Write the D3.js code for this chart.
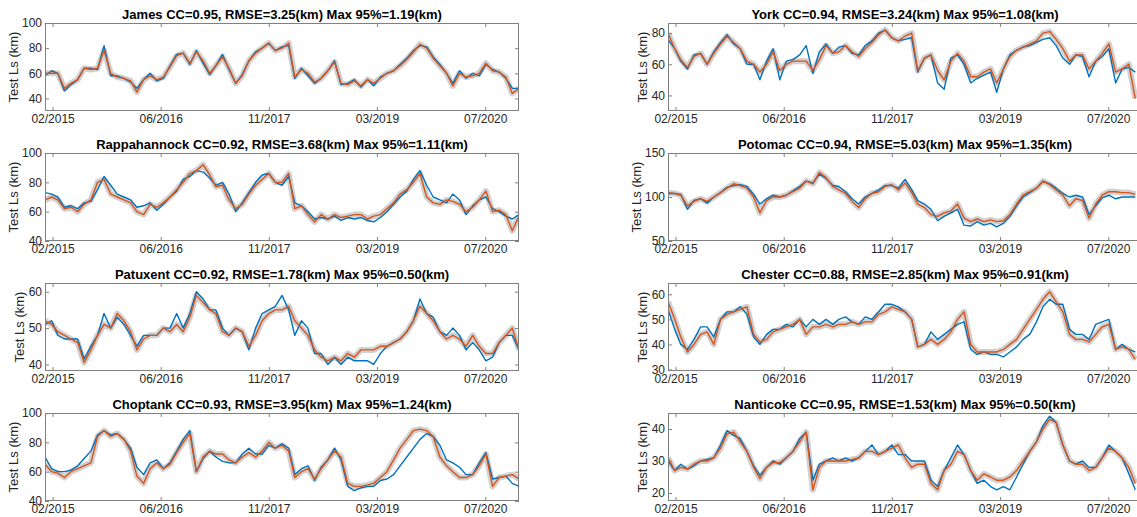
<!doctype html>
<html>
<head>
  <meta charset="utf-8">
  <title>Test Ls by river</title>
  <script src="https://d3js.org/d3.v7.min.js"></script>
  <style>
  body { margin: 0; background: #fff; }
  svg { display: block; font-family: "Liberation Sans", Arial, Helvetica, sans-serif; }
  .title { font-size: 13px; font-weight: bold; fill: #000; }
  .tick text { font-size: 12px; fill: #262626; }
  .tick line { stroke: #808080; }
  .ylabel { font-size: 13px; fill: #262626; }
  </style>
</head>
<body>
  <svg id="chart" width="1137" height="517"></svg>
  <script>
  // panels, row by row (left, right)
  var rivers = ['James', 'York', 'Rappahannock', 'Potomac', 'Patuxent', 'Chester', 'Choptank', 'Nanticoke'];
  var cc = ['0.95', '0.94', '0.92', '0.94', '0.92', '0.88', '0.93', '0.95'];
  var rmse = ['3.25', '3.24', '3.68', '5.03', '1.78', '2.85', '3.95', '1.53'];
  var max95 = ['1.19', '1.08', '1.11', '1.35', '0.50', '0.91', '1.24', '0.50'];

  var yDomains = [[30, 100], [30, 86.5], [40, 100], [50, 150], [38.2, 62.4], [29.4, 64.5], [40, 100], [17.5, 45]];
  var yTicks = [[40, 60, 80, 100], [40, 60, 80], [40, 60, 80, 100], [50, 100, 150], [40, 50, 60], [30, 40, 50, 60], [40, 60, 80, 100], [20, 30, 40]];

  // x ticks every 500 days, labelled mm/yyyy
  var xTickDates = ['2015-02-05', '2016-06-19', '2017-11-01', '2019-03-16', '2020-07-29'];

  // monthly values, first of each month from 01/2015
  var observed = {
    James: [58,62,60,46,51,55,64,64,63,82, 58,58,56,53,48,55,60,54,56,66, 75,76,67,78,68,59,66,75,63,52,
      59,70,77,80,84,78,81,82,56,64, 58,52,56,62,70,51,52,55,49,55, 50,57,60,62,67,72,78,82,81,73,
      67,60,52,62,56,60,58,67,63,61, 56,48,48],
    York: [76,70,62,57,66,67,60,68,74,79, 73,70,60,60,50,62,70,50,62,63, 66,72,54,68,73,67,71,72,67,66,
      72,75,80,82,77,75,76,77,55,64, 66,48,44,64,66,60,48,51,53,55, 42,57,66,69,71,72,74,76,77,72,
      64,60,66,65,52,62,65,70,48,57, 58,55],
    Rappahannock: [73,72,70,63,64,62,66,67,75,84, 78,72,70,68,63,64,66,61,65,70, 74,82,84,88,87,83,78,80,72,60,
      66,73,80,85,86,80,78,84,66,64, 60,55,56,55,57,54,56,55,56,54, 53,56,60,65,70,74,82,88,78,70,
      68,66,72,68,58,64,68,70,62,60, 57,55,58],
    Potomac: [104,104,103,86,96,98,93,100,105,111, 113,114,112,103,92,98,102,100,102,107, 112,118,116,126,121,113,112,106,98,92,
      100,104,108,113,113,110,120,108,96,92, 86,73,78,82,86,68,67,72,68,70, 66,70,78,90,100,105,110,118,115,110,
      104,100,102,100,80,90,99,102,98,100, 100,100],
    Patuxent: [51,52,48,47,47,47,41.5,45,48,54, 50,53,51,48,45,48,48,48,50,50, 54,50,54,60,58,55,55,50,48,50,
      49,44,50,54,55,56,59,55,48,52, 50,43,43,40,42,40,42,41,41,41, 40,43,45,46,47,49,52,58,54,53,
      49,48,50,48,44,46,44,41,42,46, 48,48,44],
    Chester: [54,46,40,38,42,47,47,43,50,53, 53,55,52,43,40,44,46,46,48,47, 50,47,50,48,50,48,50,51,49,48,
      51,50,53,56,56,55,53,50,39,40, 45,42,44,46,48,49,38,36,37,36, 36,35,37,39,42,44,49,55,58,56,
      56,46,44,44,42,48,49,50,38,40, 38,37],
    Choptank: [70,62,60,60,61,64,69,74,85,88, 85,86,82,76,63,58,66,68,62,66, 74,82,88,60,69,74,70,67,66,66,
      72,76,72,72,78,76,79,76,58,62, 64,54,63,68,76,68,50,47,49,50, 50,54,55,58,64,70,76,82,86,84,
      78,68,66,63,58,58,66,73,55,56, 57,52,50],
    Nanticoke: [30,27,29,27.5,28.5,30,30.5,31,35,39.5, 38,37,33,28.5,25.5,28,30,29,31,33, 37,39,24,29,30,31,30,31,30,31,
      33,35,32,33,35,32,32,30,30,30, 24,22,27,31,35,32,27,23,24,22, 21,22,21,25,29,33,36,41,44,42,
      35,30,29,30,28,28,31,35,33,31, 26,21]
  };

  var predicted = {
    James: [60,60,60,48,52,55,64,63,64,78, 60,57,56,54,45,55,58,55,57,65, 74,76,68,77,70,60,66,73,64,52,
      58,70,76,80,84,78,80,84,57,63, 60,53,56,62,69,52,51,54,50,55, 52,56,60,62,66,71,77,83,80,72,
      66,60,50,60,57,58,60,68,62,61, 57,44,48],
    York: [80,70,63,58,65,67,60,67,73,78, 74,70,62,60,55,60,68,56,60,62, 62,62,56,63,72,67,68,72,68,65,
      70,74,79,82,77,75,78,80,56,64, 66,56,50,62,67,62,52,52,55,57, 48,57,65,69,71,73,75,80,81,76,
      70,62,66,66,57,62,67,73,55,57, 60,38],
    Rappahannock: [68,70,68,62,63,60,65,68,80,82, 72,70,68,66,60,58,65,63,66,70, 75,80,86,88,92,85,77,78,68,62,
      65,72,78,82,86,80,80,86,62,64, 58,53,58,55,58,56,57,58,58,55, 57,58,62,66,72,75,80,86,70,66,
      65,68,67,65,60,63,68,74,60,61, 58,47,57],
    Potomac: [105,104,102,90,95,98,95,100,105,110, 115,113,110,100,82,96,100,100,102,106, 110,118,115,128,122,112,108,104,95,88,
      98,104,106,112,114,108,116,105,92,88, 80,78,82,84,92,76,72,75,72,74, 72,73,80,92,102,106,110,118,114,108,
      102,90,98,96,76,92,102,106,106,105, 105,103],
    Patuxent: [52,51,49,48,47,46,40.5,44,48,51, 50,54,52,49,44,47,48,48,50,49, 51,49,53,59,57,55,54,49,48,50,
      49,45,48,52,54,55,55,56,52,50, 48,44,42,41,42,41,43,42,44,44, 44,45,45,46,47,49,52,56,54,52,
      49,47,48,47,45,48,45,43,43,46, 48,50,44],
    Chester: [57,50,43,37,40,44,45,40,50,52, 53,54,55,44,41,42,45,46,47,48, 50,44,47,47,48,47,48,48,49,48,
      49,49,52,53,55,54,53,50,39,40, 42,40,42,45,50,53,40,37,37,37, 37,38,40,42,46,50,54,58,61,57,
      53,44,42,42,41,44,47,48,38,39, 38,34],
    Choptank: [65,60,59,56,60,62,64,66,84,88, 84,86,82,74,57,52,62,66,62,65, 73,80,86,60,70,74,72,72,68,66,
      70,73,70,74,80,76,78,74,56,60, 62,55,62,68,74,70,52,50,50,51, 52,56,60,68,76,82,88,89,88,84,
      70,64,60,56,56,58,64,72,50,56, 57,58,55],
    Nanticoke: [31,27,28,27.5,29,30,30,31,34,38.5, 39,36,33,28,24.5,28,29.5,29.5,31,33, 36,39,21,28,30,30,30,30,30.5,31,
      33,33,32,33,34,35,31,28,29,29, 23,21,27,29,33,32,27,24,26,25, 24,24,25,27,30,33,36,40,43,42,
      35,30,29,29,27,28,31,34,33,31, 28,23]
  };

  var months = d3.utcMonths(new Date(Date.UTC(2015, 0, 1)), new Date(Date.UTC(2021, 0, 2)));

  var colX = [45, 668];
  var rowY = [23, 153, 283, 413];
  var W = 474, H = 88;
  var blue = '#0072BD', orange = '#D95319', band = '#d0d0d0', boxColor = '#808080';

  var svg = d3.select('#chart');

  var x = d3.scaleUtc()
    .domain([new Date(Date.UTC(2015, 0, 1)), new Date(Date.UTC(2021, 0, 1))])
    .range([0, W]);
  var tickDates = xTickDates.map(function(s){ return new Date(s + 'T00:00:00Z'); });
  var fmt = d3.utcFormat('%m/%Y');

  rivers.forEach(function(name, i){
    var col = i % 2, row = Math.floor(i / 2);
    var g = svg.append('g').attr('transform', 'translate(' + colX[col] + ',' + rowY[row] + ')');
    var y = d3.scaleLinear().domain(yDomains[i]).range([H, 0]);

    var clipId = 'clip' + i;
    g.append('clipPath').attr('id', clipId)
      .append('rect').attr('width', W).attr('height', H);

    var line = d3.line()
      .x(function(d, k){ return x(months[k]); })
      .y(function(d){ return y(d); });

    var plot = g.append('g').attr('clip-path', 'url(#' + clipId + ')');
    plot.append('path').datum(predicted[name])
      .attr('d', line).attr('fill', 'none')
      .attr('stroke', band).attr('stroke-width', 6)
      .attr('stroke-linejoin', 'round');
    plot.append('path').datum(observed[name])
      .attr('d', line).attr('fill', 'none')
      .attr('stroke', blue).attr('stroke-width', 1.4)
      .attr('stroke-linejoin', 'round');
    plot.append('path').datum(predicted[name])
      .attr('d', line).attr('fill', 'none')
      .attr('stroke', orange).attr('stroke-width', 1.4)
      .attr('stroke-linejoin', 'round');

    // axes, ticks pointing in like matlab
    g.append('g').attr('transform', 'translate(0,' + H + ')')
      .call(d3.axisBottom(x).tickValues(tickDates).tickFormat(fmt).tickSizeInner(-4).tickSizeOuter(0).tickPadding(3))
      .call(function(a){ a.select('.domain').remove(); });
    g.append('g')
      .call(d3.axisTop(x).tickValues(tickDates).tickFormat('').tickSizeInner(-4).tickSizeOuter(0))
      .call(function(a){ a.select('.domain').remove(); });
    var yAxis = g.append('g')
      .call(d3.axisLeft(y).tickValues(yTicks[i]).tickSizeInner(-4).tickSizeOuter(0).tickPadding(3))
      .call(function(a){ a.select('.domain').remove(); });
    g.append('g').attr('transform', 'translate(' + W + ',0)')
      .call(d3.axisRight(y).tickValues(yTicks[i]).tickFormat('').tickSizeInner(-4).tickSizeOuter(0))
      .call(function(a){ a.select('.domain').remove(); });

    g.append('rect')
      .attr('x', 0.5).attr('y', 0.5).attr('width', W - 1).attr('height', H - 1)
      .attr('fill', 'none').attr('stroke', boxColor).attr('stroke-width', 1);

    var bb = yAxis.node().getBBox();
    g.append('text').attr('class', 'ylabel')
      .attr('transform', 'translate(' + (bb.x - 9) + ',' + (H / 2) + ') rotate(-90)')
      .attr('text-anchor', 'middle').attr('dy', '0.35em')
      .text('Test Ls (km)');

    g.append('text').attr('class', 'title')
      .attr('x', W / 2).attr('y', -4)
      .attr('text-anchor', 'middle')
      .text(name + ' CC=' + cc[i] + ', RMSE=' + rmse[i] + '(km) Max 95%=' + max95[i] + '(km)');
  });
  </script>
</body>
</html>
